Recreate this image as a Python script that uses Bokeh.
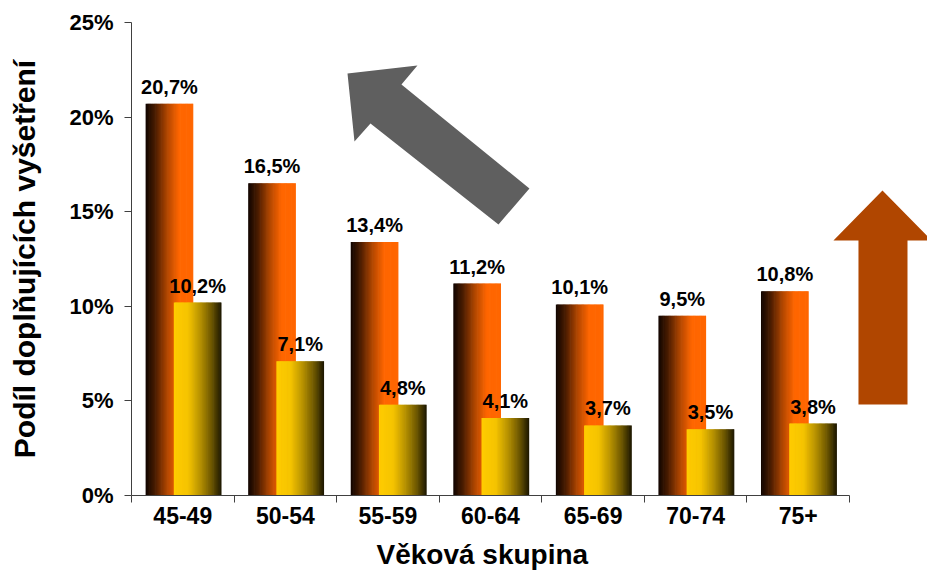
from bokeh.plotting import figure
from bokeh.models import Range1d, FixedTicker, ColumnDataSource, Title
from bokeh.core.properties import value
from bokeh.embed import file_html
from bokeh.resources import INLINE

# ---- data ----
categories = ["45-49", "50-54", "55-59", "60-64", "65-69", "70-74", "75+"]
series_orange = [20.7, 16.5, 13.4, 11.2, 10.1, 9.5, 10.8]
series_yellow = [10.2, 7.1, 4.8, 4.1, 3.7, 3.5, 3.8]
y_ticks = [0, 5, 10, 15, 20, 25]
y_tick_labels = ["0%", "5%", "10%", "15%", "20%", "25%"]
x_title = "Věková skupina"
y_title = "Podíl doplňujících vyšetření"

# ---- style ----
FONT = "Liberation Sans"
N_STRIPS = 40
BAR_W = 0.465
ORANGE_OFF = 0.37
YELLOW_OFF = 0.645
orange_stops = [(0.0, (16, 5, 0)), (0.2, (74, 28, 0)), (0.45, (176, 70, 0)),
                (0.7, (255, 102, 0)), (1.0, (255, 102, 0))]
yellow_stops = [(0.0, (255, 204, 0)), (0.3, (245, 196, 0)), (0.55, (184, 146, 0)),
                (0.8, (106, 85, 0)), (1.0, (26, 21, 0))]


def grad(stops, t):
    for (t0, c0), (t1, c1) in zip(stops[:-1], stops[1:]):
        if t <= t1:
            f = (t - t0) / (t1 - t0) if t1 > t0 else 0
            return "#%02x%02x%02x" % tuple(int(round(a + (b - a) * f)) for a, b in zip(c0, c1))
    return "#%02x%02x%02x" % stops[-1][1]


def strips(values, offset, stops):
    L, R, T, C = [], [], [], []
    sw = BAR_W / N_STRIPS
    for i, v in enumerate(values):
        left0 = i + offset - BAR_W / 2
        for k in range(N_STRIPS):
            l = left0 + k * sw
            r = l + sw * (1.6 if k < N_STRIPS - 1 else 1.0)
            L.append(l); R.append(r); T.append(v)
            C.append(grad(stops, (k + 0.5) / N_STRIPS))
    return ColumnDataSource(dict(left=L, right=R, top=T, bottom=[0] * len(T), color=C))


n = len(categories)
p = figure(width=927, height=580, output_backend="svg", toolbar_location=None,
           x_range=Range1d(0, 7.761), y_range=Range1d(0, 25),
           min_border_left=131, min_border_top=22, min_border_bottom=85,
           min_border_right=0)
p.outline_line_color = None
p.grid.visible = False
p.background_fill_color = "white"

# decorative arrows
grey_arrow_x = [2.106, 2.788, 2.632, 3.880, 3.578, 2.330, 2.174]
grey_arrow_y = [22.30, 22.73, 21.72, 16.23, 14.32, 19.66, 18.71]
brown_arrow_x = [7.322, 7.800, 7.566, 7.566, 7.088, 7.088, 6.844]
brown_arrow_y = [16.12, 13.48, 13.48, 4.81, 4.81, 13.48, 13.48]
p.patch(grey_arrow_x, grey_arrow_y, fill_color="#5f5f5f", line_color=None)
p.patch(brown_arrow_x, brown_arrow_y, fill_color="#b04600", line_color=None)

# bars as gradient strips
p.quad(left="left", right="right", top="top", bottom="bottom", fill_color="color",
       line_color=None, source=strips(series_orange, ORANGE_OFF, orange_stops))
p.quad(left="left", right="right", top="top", bottom="bottom", fill_color="color",
       line_color=None, source=strips(series_yellow, YELLOW_OFF, yellow_stops))

# value labels
fmt = lambda v: ("%.1f" % v).replace(".", ",") + "%"
lab_o = ColumnDataSource(dict(x=[i + ORANGE_OFF for i in range(n)], y=series_orange,
                              t=[fmt(v) for v in series_orange]))
lab_y = ColumnDataSource(dict(x=[i + YELLOW_OFF for i in range(n)], y=series_yellow,
                              t=[fmt(v) for v in series_yellow]))
for src in (lab_o, lab_y):
    p.text(x="x", y="y", text="t", source=src, text_font=value(FONT),
           text_font_style="bold", text_font_size="20px", text_color="black",
           text_align="center", text_baseline="alphabetic", y_offset=-17)

# x axis
xa = p.xaxis[0]
xa.ticker = FixedTicker(ticks=[i + 0.5 for i in range(n)], minor_ticks=list(range(n + 1)))
xa.major_label_overrides = {i + 0.5: c for i, c in enumerate(categories)}
xa.bounds = (0, n)
xa.major_tick_out = 0
xa.major_tick_in = 0
xa.minor_tick_out = 7
xa.minor_tick_in = 0
xa.axis_line_color = "#404040"
xa.minor_tick_line_color = "#404040"
xa.major_label_text_font = FONT
xa.major_label_text_font_style = "bold"
xa.major_label_text_font_size = "23px"
xa.major_label_text_color = "black"
xa.major_label_standoff = 4

# x title, placed under the category span (the frame is wider because of the arrow)
p.add_layout(Title(text=x_title, align="left", offset=245, standoff=20,
                   text_font=FONT, text_font_style="bold", text_font_size="28px",
                   text_color="black"), "below")

# y axis
ya = p.yaxis[0]
ya.ticker = FixedTicker(ticks=y_ticks, minor_ticks=[])
ya.major_label_overrides = {t: l for t, l in zip(y_ticks, y_tick_labels)}
ya.major_tick_out = 7
ya.major_tick_in = 0
ya.minor_tick_line_color = None
ya.axis_line_color = "#404040"
ya.major_tick_line_color = "#404040"
ya.major_label_text_font = FONT
ya.major_label_text_font_style = "bold"
ya.major_label_text_font_size = "22px"
ya.major_label_text_color = "black"
ya.major_label_standoff = 11
ya.axis_label = y_title
ya.axis_label_text_font = FONT
ya.axis_label_text_font_style = "bold"
ya.axis_label_text_font_size = "30px"
ya.axis_label_text_color = "black"
ya.axis_label_standoff = 25

open("out.html", "w").write(file_html(p, INLINE))
